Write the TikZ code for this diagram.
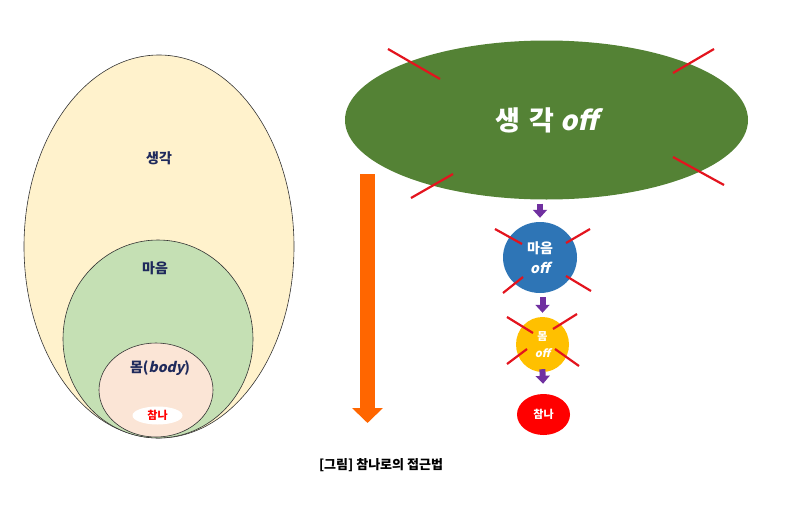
\documentclass[tikz,border=0pt]{standalone}
\usepackage{fontspec}
\setmainfont{Noto Sans CJK KR}
\newfontfamily\slantfont{Noto Sans CJK KR}[FakeSlant=0.22]
\usetikzlibrary{shapes.geometric,arrows.meta}

\definecolor{thinkcream}{HTML}{FFF2CC}
\definecolor{mindgreen}{HTML}{C5E0B4}
\definecolor{bodypeach}{HTML}{FBE5D6}
\definecolor{offgreen}{HTML}{548235}
\definecolor{offblue}{HTML}{2E75B6}
\definecolor{offgold}{HTML}{FFC000}
\definecolor{selfred}{HTML}{FF0000}
\definecolor{stepviolet}{HTML}{7030A0}
\definecolor{pathorange}{HTML}{FF6600}
\definecolor{cutred}{HTML}{E3141E}
\definecolor{inkblue}{HTML}{1F2A5C}

\newcommand{\off}{{\slantfont\bfseries off}}

\tikzset{
  layer/.style={ellipse, draw=black!80, line width=0.6pt, inner sep=0pt},
  blob/.style={ellipse, draw=none, inner sep=0pt, text=white, font=\bfseries},
  lbl/.style={draw=none, fill=none, inner sep=0pt, anchor=center, text=inkblue, font=\bfseries\fontsize{14}{16}\selectfont},
  cut/.style={draw=cutred, line width=2.2pt},
  down/.style={draw=stepviolet, line width=6pt, -{Triangle[width=14pt,length=8pt]}, shorten <=4pt, shorten >=4pt}
}

\begin{document}
\begin{tikzpicture}[x=1pt, y=-1pt]
  \useasboundingbox (0,0) rectangle (810,530);

  % — Left: nested layers —
  \node[layer, fill=thinkcream, minimum width=270pt, minimum height=383pt] (think) at (159,246.5) {};
  \node[layer, fill=mindgreen, minimum width=190pt, minimum height=198pt] (mind) at (158,339) {};
  \node[layer, fill=bodypeach, minimum width=114pt, minimum height=94pt] (body) at (156,390) {};
  \node[ellipse, fill=white, inner sep=0pt, minimum width=50pt, minimum height=18pt] (self) at (157.5,415.5) {};

  \node[lbl] (thinklbl) at (159,158) {생각};
  \node[lbl] (mindlbl) at (155,268) {마음};
  \node[lbl] (bodylbl) at (160,368) {몸({\slantfont\bfseries body})};
  \node[lbl, text=selfred, font=\bfseries\fontsize{11}{13}\selectfont] (selflbl) at (self) {참나};

  % — Middle: the way down —
  \coordinate (otop) at (367.5,174);
  \coordinate (obot) at (367.5,423);
  \draw[draw=pathorange, line width=15pt, -{Triangle[width=30pt,length=15pt]}] (otop) -- (obot);

  % — Right: switching off —
  \node[blob, fill=offgreen, minimum width=403pt, minimum height=159pt,
        font=\bfseries\fontsize{27}{30}\selectfont] (thinkoff) at (546.5,120) {생\,\,각 \off};
  \node[blob, fill=offblue, minimum width=74pt, minimum height=71pt, align=center,
        font=\bfseries\fontsize{14}{20}\selectfont] (mindoff) at (540,257.5) {마음\\\off};
  \node[blob, fill=offgold, minimum width=53pt, minimum height=55pt, align=center,
        font=\bfseries\fontsize{11}{17}\selectfont] (bodyoff) at (542.5,344.5) {몸\\\off};
  \node[blob, fill=selfred, minimum width=53pt, minimum height=41pt,
        font=\bfseries\fontsize{11}{13}\selectfont] (selfon) at (543.5,414.5) {참나};

  % red cuts
  \foreach \xa/\ya/\xb/\yb in {388/49/440/79, 714/49/673/73, 411/198/453/174, 673/157/724/185,
                               495/229/522/244, 590/229/566/243, 503/293/523/277, 566/276/591/291,
                               507/317/533/333, 577/314/553/329, 507/364/527/349, 555/349/579/366} {
    \draw[cut] (\xa,\ya) -- (\xb,\yb);
  }

  % steps
  \draw[down] (mindoff.north |- thinkoff.south) -- (mindoff.north);
  \draw[down] (bodyoff.north |- mindoff.south) -- (bodyoff.north);
  \draw[down, shorten <=-3pt, shorten >=10pt] (bodyoff.south) -- (selfon.north);

  % caption
  \node[lbl, text=black, font=\bfseries\fontsize{13}{15}\selectfont] (caption) at (381,465) {[그림] 참나로의 접근법};
\end{tikzpicture}
\end{document}
